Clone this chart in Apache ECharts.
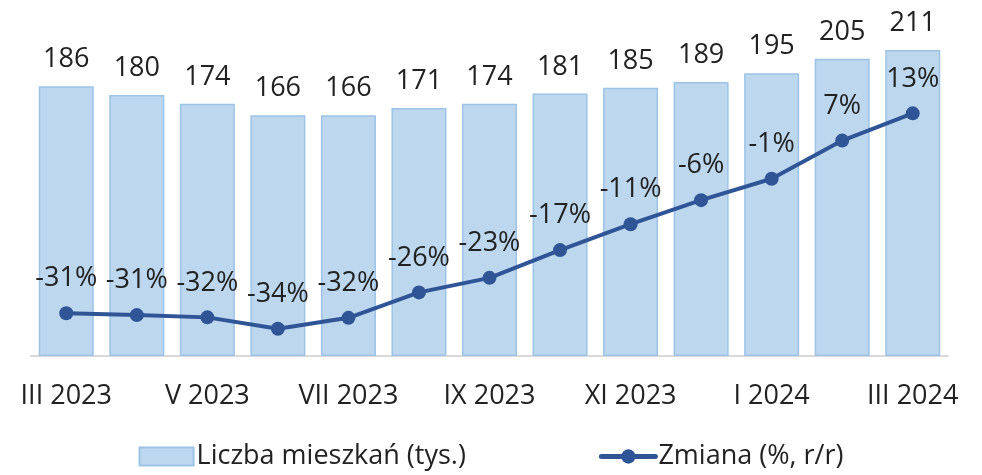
<!DOCTYPE html>
<html>
<head>
<meta charset="utf-8">
<script src="https://cdn.jsdelivr.net/npm/echarts@6/dist/echarts.min.js"></script>
<style>
  html, body { margin: 0; padding: 0; background: #fff; }
  #chart { width: 982px; height: 475px; }
</style>
</head>
<body>
<div id="chart"></div>
<script>
// miesiące
var categories = ['III 2023', 'IV 2023', 'V 2023', 'VI 2023', 'VII 2023', 'VIII 2023', 'IX 2023',
  'X 2023', 'XI 2023', 'XII 2023', 'I 2024', 'II 2024', 'III 2024']
// liczba mieszkań (tys.)
var mieszkania = [186, 180, 174, 166, 166, 171, 174, 181, 185, 189, 195, 205, 211]
// zmiana r/r w % (etykiety zaokrąglone)
var zmiana = [-31.0, -31.4, -31.9, -34.4, -32.0, -26.4, -23.2, -17.1, -11.4, -6.1, -1.4, 7.0, 13.0]

var font = '"Open Sans", "DejaVu Sans", sans-serif'
var txt = '#222'
var fs = 27

var myChart = echarts.init(document.getElementById('chart'))
var option = {
  animation: false,
  textStyle: { fontFamily: font },
  grid: { left: 31, right: 34, top: 37, bottom: 119 },
  legend: {
    bottom: 0,
    left: 'center',
    itemGap: 133,
    itemWidth: 54,
    itemHeight: 18,
    textStyle: { fontFamily: font, fontSize: fs, color: txt, padding: [0, 0, 0, -2] },
    data: [
      { name: 'Liczba mieszkań (tys.)', icon: 'rect' },
      { name: 'Zmiana (%, r/r)', itemStyle: { color: '#2f5597' }, lineStyle: { color: '#2f5597', width: 5, cap: 'round' } }
    ]
  },
  xAxis: {
    type: 'category',
    data: categories,
    axisLine: { lineStyle: { color: '#d9d9d9', width: 2 } },
    axisTick: { interval: 0, length: 7, lineStyle: { color: '#d9d9d9', width: 2 } },
    axisLabel: { interval: 1, fontFamily: font, fontSize: fs, color: txt, margin: 27 }
  },
  yAxis: [
    { type: 'value', min: 0, max: 220, show: false, splitLine: { show: false } },
    { type: 'value', min: -40.4, max: 29.8, show: false, splitLine: { show: false } }
  ],
  series: [
    {
      name: 'Liczba mieszkań (tys.)',
      type: 'bar',
      data: mieszkania,
      barWidth: '78%',
      itemStyle: { color: '#bdd7ee', borderColor: '#9dc3e6', borderWidth: 1.5 },
      label: {
        show: true, position: 'top', distance: 13,
        fontFamily: font, fontSize: fs, color: txt
      }
    },
    {
      name: 'Zmiana (%, r/r)',
      type: 'line',
      yAxisIndex: 1,
      data: zmiana,
      symbol: 'circle',
      symbolSize: 14,
      lineStyle: { color: '#2f5597', width: 4 },
      itemStyle: { color: '#2f5597' },
      label: {
        show: true, position: 'top', distance: 14,
        fontFamily: font, fontSize: fs, color: txt,
        formatter: function (p) { return Math.round(p.value) + '%' }
      }
    }
  ]
}
myChart.setOption(option)
</script>
</body>
</html>
